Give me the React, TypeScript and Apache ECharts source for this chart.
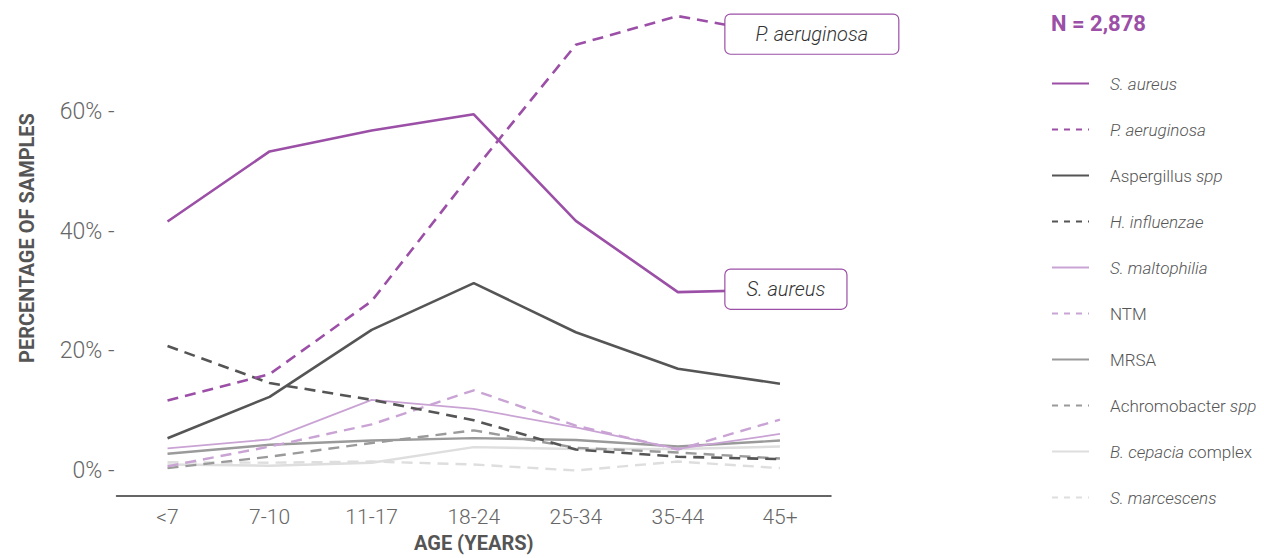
import React, { useEffect, useRef } from "react";
import * as echarts from "echarts";

const categories = ["<7", "7-10", "11-17", "18-24", "25-34", "35-44", "45+"];
const yTicks = [0, 20, 40, 60];

const sAureus = [41.6, 53.3, 56.8, 59.5, 41.7, 29.8, 30.2];
const pAeruginosa = [11.7, 16.1, 28.3, 50.1, 71.1, 75.9, 72.8];
const aspergillus = [5.4, 12.3, 23.5, 31.3, 23.1, 17.0, 14.5];
const hInfluenzae = [20.8, 14.6, 11.8, 8.4, 3.5, 2.3, 1.9];
const sMaltophilia = [3.7, 5.2, 11.8, 10.3, 7.2, 3.6, 6.1];
const ntm = [0.7, 4.0, 7.7, 13.4, 7.5, 3.5, 8.5];
const mrsa = [2.8, 4.3, 5.0, 5.4, 5.1, 4.0, 5.0];
const achromobacter = [0.4, 2.3, 4.6, 6.7, 3.8, 3.0, 2.0];
const bCepacia = [1.0, 0.8, 1.3, 3.9, 3.6, 3.6, 4.0];
const sMarcescens = [1.4, 1.3, 1.5, 1.0, 0.0, 1.5, 0.4];

const seriesNames = [
  "S. aureus",
  "P. aeruginosa",
  "Aspergillus spp",
  "H. influenzae",
  "S. maltophilia",
  "NTM",
  "MRSA",
  "Achromobacter spp",
  "B. cepacia complex",
  "S. marcescens",
];
const dashedNames = ["P. aeruginosa", "H. influenzae", "NTM", "Achromobacter spp", "S. marcescens"];
const legendRich: Record<string, string> = {
  "S. aureus": "{i|S. aureus}",
  "P. aeruginosa": "{i|P. aeruginosa}",
  "Aspergillus spp": "{n|Aspergillus }{i|spp}",
  "H. influenzae": "{i|H. influenzae}",
  "S. maltophilia": "{i|S. maltophilia}",
  NTM: "{n|NTM}",
  MRSA: "{n|MRSA}",
  "Achromobacter spp": "{n|Achromobacter }{i|spp}",
  "B. cepacia complex": "{i|B. cepacia}{n| complex}",
  "S. marcescens": "{i|S. marcescens}",
};

const PURPLE = "#9b4fa6";
const LPURPLE = "#caa3d5";
const DGRAY = "#555555";
const MGRAY = "#9a9a9a";
const LGRAY = "#dedede";
const FONT = "Roboto, 'Noto Sans', sans-serif";

export default function App() {
  const ref = useRef<HTMLDivElement>(null);
  useEffect(() => {
    if (!ref.current) return;
    const chart = echarts.init(ref.current, undefined, { renderer: "svg" });
    const dash = [11, 7];
    const mk = (name: string, data: number[], color: string, dashed: boolean, width: number, box?: { pad: number[] }) => {
      const s: any = {
        name,
        type: "line",
        data,
        symbol: "circle",
        showSymbol: false,
        clip: false,
        lineStyle: { color, width, type: dashed ? dash : "solid" },
        itemStyle: { color },
      };
      if (box) {
        s.markPoint = {
          silent: true,
          symbol: "circle",
          symbolSize: 1,
          itemStyle: { color: "rgba(0,0,0,0)" },
          data: [{ coord: [data.length - 1, data[data.length - 1]] }],
          label: {
            show: true,
            formatter: name,
            position: [-54, 0],
            align: "left",
            verticalAlign: "middle",
            backgroundColor: "#fff",
            borderColor: PURPLE,
            borderWidth: 1.2,
            borderRadius: 5,
            padding: box.pad,
            fontFamily: FONT,
            fontSize: 20,
            fontWeight: 300,
            fontStyle: "italic",
            color: "#333",
          },
        };
      }
      return s;
    };
    const series = [
      mk(seriesNames[9], sMarcescens, LGRAY, true, 2.4),
      mk(seriesNames[8], bCepacia, LGRAY, false, 2.4),
      mk(seriesNames[7], achromobacter, MGRAY, true, 2.4),
      mk(seriesNames[6], mrsa, MGRAY, false, 2.4),
      mk(seriesNames[5], ntm, LPURPLE, true, 2.4),
      mk(seriesNames[4], sMaltophilia, LPURPLE, false, 1.8),
      mk(seriesNames[3], hInfluenzae, DGRAY, true, 2.6),
      mk(seriesNames[2], aspergillus, DGRAY, false, 2.6),
      mk(seriesNames[1], pAeruginosa, PURPLE, true, 2.6, { pad: [10, 30, 9, 30] }),
      mk(seriesNames[0], sAureus, PURPLE, false, 2.6, { pad: [10, 21, 9, 21] }),
    ];
    chart.setOption({
      animation: false,
      title: {
        text: "N = 2,878",
        left: 1046,
        top: 7,
        textStyle: { color: PURPLE, fontSize: 22, fontWeight: "bold", fontFamily: FONT },
      },
      legend: {
        orient: "vertical",
        left: 1051,
        top: 75,
        padding: 0,
        data: seriesNames.map((n) =>
          dashedNames.includes(n) ? { name: n, lineStyle: { type: [6, 6] } } : { name: n }
        ),
        itemWidth: 37,
        itemHeight: 14,
        itemGap: 29,
        itemStyle: { opacity: 0 },
        formatter: (n: string) => legendRich[n] || n,
        textStyle: {
          color: DGRAY,
          fontSize: 17,
          fontWeight: 300,
          fontFamily: FONT,
          padding: [0, 0, 0, 16],
          rich: {
            i: { fontStyle: "italic", fontSize: 17, fontWeight: 300, color: DGRAY, fontFamily: FONT },
            n: { fontSize: 17, fontWeight: 300, color: DGRAY, fontFamily: FONT },
          },
        },
      },
      grid: { left: 116.5, right: 433, top: 15.5, bottom: 86 },
      xAxis: {
        type: "category",
        data: categories,
        boundaryGap: true,
        offset: 25,
        axisLine: { onZero: false, lineStyle: { color: "#333", width: 1.5 } },
        axisTick: { alignWithLabel: true, length: 5, lineStyle: { color: "#333" } },
        axisLabel: { color: "#666", fontSize: 21, fontWeight: 300, margin: 11, fontFamily: FONT },
        name: "AGE (YEARS)",
        nameLocation: "middle",
        nameGap: 37.5,
        nameTextStyle: { color: DGRAY, fontSize: 20, fontWeight: "bold", fontFamily: FONT },
      },
      yAxis: {
        type: "value",
        min: 0,
        max: 76,
        interval: 20,
        splitLine: { show: false },
        axisLine: { show: false },
        axisTick: { show: false },
        axisLabel: {
          color: "#666",
          fontSize: 23,
          fontWeight: 300,
          margin: 2,
          fontFamily: FONT,
          formatter: (v: number) => (yTicks.includes(v) ? `${v}% -` : ""),
        },
        name: "PERCENTAGE OF SAMPLES",
        nameLocation: "middle",
        nameRotate: 90,
        nameGap: 80,
        nameTextStyle: { color: DGRAY, fontSize: 20, fontWeight: "bold", fontFamily: FONT, padding: [0, 0, 0, 10] },
      },
      series,
    });
    return () => chart.dispose();
  }, []);
  return (
    <div
      ref={ref}
      style={{ position: "absolute", left: 0, top: 0, width: 1264, height: 558 }}
    />
  );
}
